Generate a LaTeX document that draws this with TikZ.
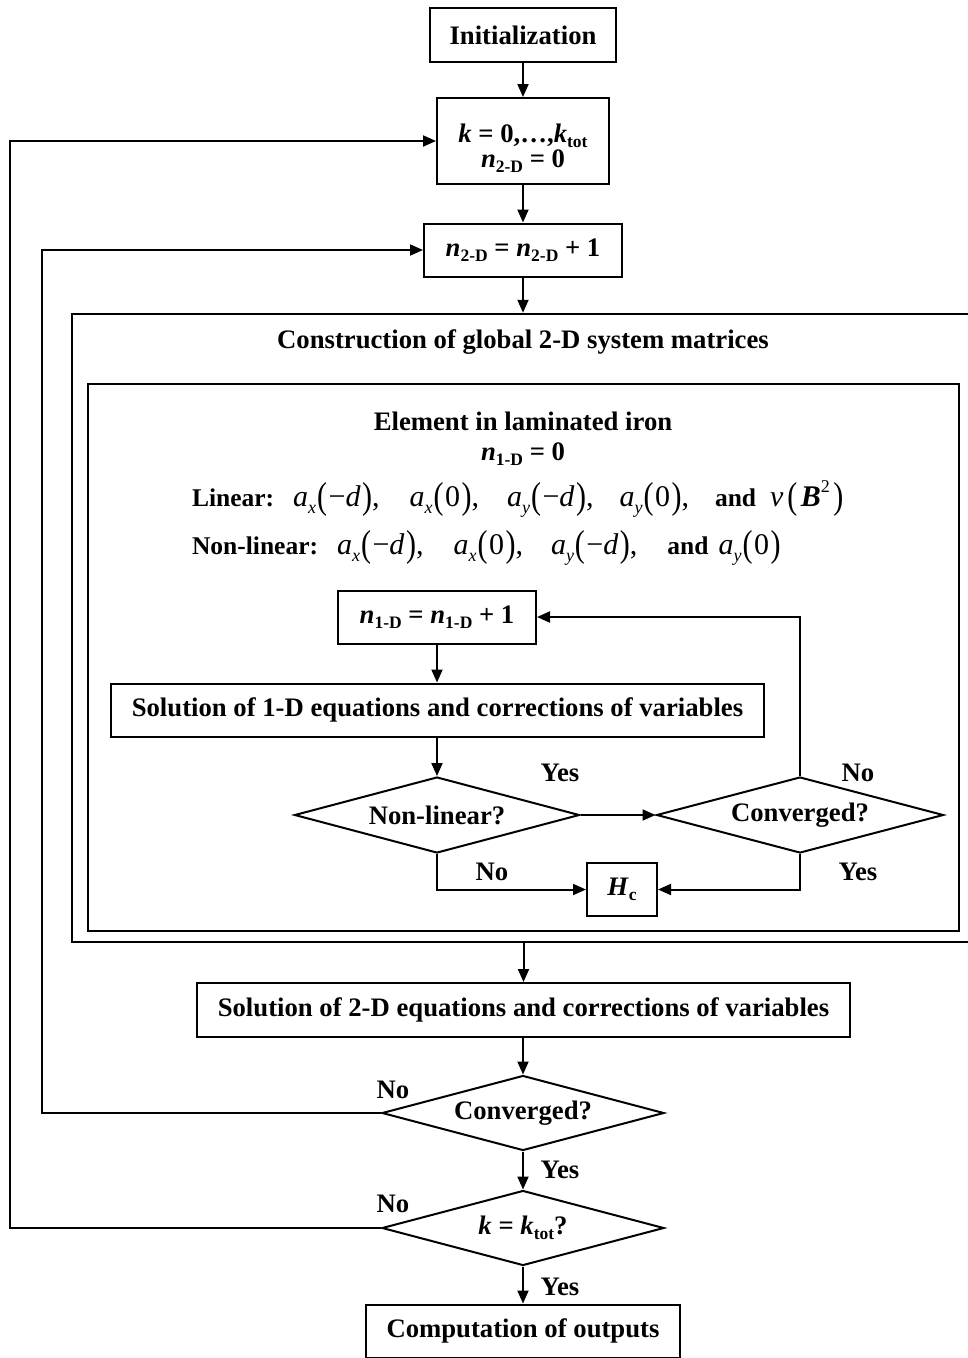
\documentclass[tikz,border=0pt]{standalone}
\usepackage{fontspec}
\setmainfont{Liberation Serif}
\usepackage{graphicx}
\usetikzlibrary{shapes.geometric,arrows.meta}
\newcommand\bi[1]{\textbf{\textit{#1}}}
\newcommand\sbs[1]{\raisebox{-0.4ex}{\fontsize{17.5}{17.5}\selectfont #1}}
\newcommand\ms[1]{\raisebox{-0.5ex}{\fontsize{18}{18}\selectfont\mdseries\itshape #1}}
\newcommand\lp{\raisebox{-0.12ex}{\scalebox{1}[1.25]{\mdseries(}}\kern1.5pt}
\newcommand\rp{\kern1.5pt\raisebox{-0.12ex}{\scalebox{1}[1.25]{\mdseries)}}}
\newcommand\av[2]{{\fontsize{30}{30}\selectfont\mdseries\textit{a}\ms{#1}\kern1pt\lp#2\rp}}
\newcommand\md{{\mdseries −\textit{d}}}
\newcommand\zr{{\mdseries 0}}
\newcommand\cm{{\fontsize{30}{30}\selectfont\mdseries,}}
\newcommand\lbl[1]{{\fontsize{25.5}{26}\selectfont #1}}
\begin{document}
\begin{tikzpicture}[x=1pt,y=-1pt, line width=2pt,
  >={Triangle[length=13pt,width=11pt]},
  every node/.style={font=\fontsize{26.7}{27}\selectfont\bfseries},
  box/.style={draw, inner sep=0pt, align=center},
  dia/.style={draw, diamond, inner sep=0pt, aspect=3.7},
  lab/.style={inner sep=0pt}]
\useasboundingbox (0,0) rectangle (967,1358);
\fill[white] (0,0) rectangle (967,1358);

\node[box, minimum width=186, minimum height=54] (init) at (523,35) {Initialization};
\node[box, minimum width=172, minimum height=86, font=\fontsize{26.7}{25}\selectfont\bfseries] (kbox) at (523,141) {\rule{0pt}{33pt}\bi{k} = 0,…,\bi{k}\sbs{tot}\\ \bi{n}\sbs{2-D} = 0};
\node[box, minimum width=198, minimum height=53] (n2d) at (523,250) {\bi{n}\sbs{2-D} = \bi{n}\sbs{2-D} + 1};

\node[draw, line width=2.5pt, inner sep=0pt, minimum width=903, minimum height=628] (outer) at (523.5,628) {};
\node[lab] (title) at (523,342) {Construction of global 2-D system matrices};
\node[draw, inner sep=0pt, minimum width=871, minimum height=547] (inner) at (523.5,657.5) {};
\node[lab] (elem) at (523,421) {Element in laminated iron};
\node[lab] (n1dz) at (523,454) {\bi{n}\sbs{1-D} = 0};
\node[lab, anchor=west] (lin) at (191,499) {\lbl{Linear:}\hspace{19pt}\av{x}{\md}\cm\hspace{30pt}\av{x}{\zr}\cm\hspace{28pt}\av{y}{\md}\cm\hspace{26pt}\av{y}{\zr}\cm\hspace{26pt}\lbl{and}\hspace{14pt}{\fontsize{30}{30}\selectfont\mdseries\textit{ν}\kern4pt\lp\kern2pt\bi{B}\raisebox{1.0ex}{\fontsize{18}{18}\selectfont\mdseries 2}\kern2pt\rp}};
\node[lab, anchor=west] (nlin) at (191,548) {\lbl{Non-linear:}\hspace{19pt}\av{x}{\md}\cm\hspace{30pt}\av{x}{\zr}\cm\hspace{28pt}\av{y}{\md}\cm\hspace{30pt}\lbl{and}\hspace{10pt}\av{y}{\zr}};

\node[box, minimum width=198, minimum height=53] (n1d) at (437,617) {\bi{n}\sbs{1-D} = \bi{n}\sbs{1-D} + 1};
\node[box, minimum width=653, minimum height=53] (sol1) at (437.5,710) {Solution of 1-D equations and corrections of variables};
\node[dia, minimum width=285, minimum height=76] (nl) at (437,815) {Non-linear?};
\node[dia, minimum width=287, minimum height=76] (cv1) at (800,815) {Converged?};
\node[box, minimum width=70, minimum height=53] (hc) at (622,889.5) {\bi{H}\sbs{c}};

\node[box, minimum width=653, minimum height=54] (sol2) at (523.5,1010) {Solution of 2-D equations and corrections of variables};
\node[dia, minimum width=282, minimum height=75] (cv2) at (523,1113) {Converged?};
\node[dia, minimum width=282, minimum height=75] (kk) at (523,1228) {\bi{k} = \bi{k}\sbs{tot}?};
\node[box, minimum width=314, minimum height=53] (out) at (523,1331) {Computation of outputs};

\coordinate (l1) at (42,0);
\coordinate (l2) at (10,0);

\draw[->] (init) -- (kbox);
\draw[->] (kbox) -- (n2d);
\draw[->] (n2d.south) -- (n2d.south |- outer.north);
\draw[->] (n1d.south) -- (n1d.south |- sol1.north);
\draw[->] (sol1.south -| nl.north) -- (nl.north);
\draw[->] (nl.east) -- (cv1.west);
\draw[->] (cv1.north) |- (n1d.east);
\draw[->] (nl.south) |- (hc.west);
\draw[->] (cv1.south) |- (hc.east);
\draw[->] (outer.south -| sol2.north) -- (sol2.north);
\draw[->] (sol2.south -| cv2.north) -- (cv2.north);
\draw[->] (cv2.south) -- (kk.north);
\draw[->] (kk.south) -- (out.north);
\draw[->] (cv2.west) -| (l1 |- n2d.west) -- (n2d.west);
\draw[->] (kk.west) -| (l2 |- kbox.west) -- (kbox.west);

\node[lab] (y1) at (560,773) {Yes};
\node[lab] (n1) at (858,773) {No};
\node[lab] (n2) at (492,872) {No};
\node[lab] (y2) at (858,872) {Yes};
\node[lab] (n3) at (393,1090) {No};
\node[lab] (y3) at (560,1170) {Yes};
\node[lab] (n4) at (393,1204) {No};
\node[lab] (y4) at (560,1287) {Yes};
\end{tikzpicture}
\end{document}
